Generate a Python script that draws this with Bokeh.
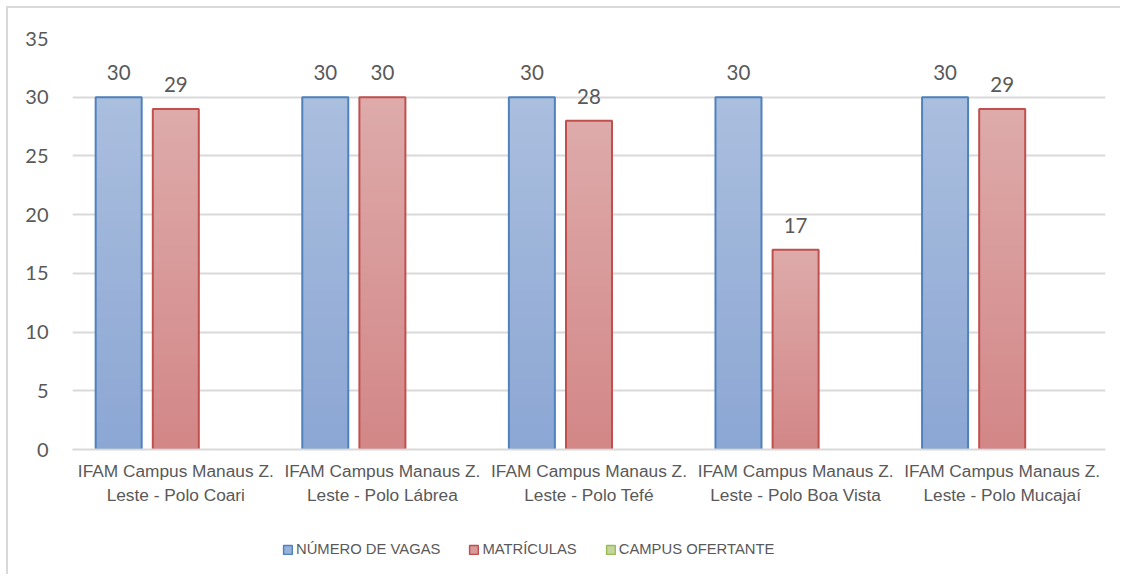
from bokeh.plotting import figure
from bokeh.layouts import column
from bokeh.models import Range1d, FixedTicker, Legend, LegendItem, ColumnDataSource
from bokeh.core.properties import value
from bokeh.embed import file_html
from bokeh.resources import INLINE

categories = [
    "IFAM Campus Manaus Z.\nLeste - Polo Coari",
    "IFAM Campus Manaus Z.\nLeste - Polo Lábrea",
    "IFAM Campus Manaus Z.\nLeste - Polo Tefé",
    "IFAM Campus Manaus Z.\nLeste - Polo Boa Vista",
    "IFAM Campus Manaus Z.\nLeste - Polo Mucajaí",
]
series_names = ["NÚMERO DE VAGAS", "MATRÍCULAS", "CAMPUS OFERTANTE"]
vagas = [30, 30, 30, 30, 30]
matriculas = [29, 30, 28, 17, 29]
campus = [0, 0, 0, 0, 0]
y_ticks = [0, 5, 10, 15, 20, 25, 30, 35]

TEXT = "#595959"
GRID = "#D9D9D9"
SANS = "Liberation Sans"
NUMF = "Lato"

p = figure(
    frame_width=1033, frame_height=411,
    min_border_left=64, min_border_right=15, min_border_top=30, min_border_bottom=85,
    x_range=Range1d(-0.5, len(categories) - 0.5), y_range=Range1d(0, 35),
    output_backend="svg", toolbar_location=None, tools="",
)
p.outline_line_color = None
p.background_fill_color = "white"
p.border_fill_color = "white"

# axes
p.xaxis.ticker = FixedTicker(ticks=list(range(len(categories))))
p.xaxis.major_label_overrides = {i: c for i, c in enumerate(categories)}
p.xaxis.axis_line_color = GRID
p.xaxis.axis_line_width = 2
p.xaxis.major_tick_line_color = None
p.xaxis.minor_tick_line_color = None
p.xaxis.major_label_text_font = SANS
p.xaxis.major_label_text_font_size = "17.3px"
p.xaxis.major_label_text_color = TEXT
p.xaxis.major_label_standoff = 5

p.yaxis.ticker = FixedTicker(ticks=y_ticks)
p.yaxis.axis_line_color = None
p.yaxis.major_tick_line_color = None
p.yaxis.minor_tick_line_color = None
p.yaxis.major_label_text_font = NUMF
p.yaxis.major_label_text_font_size = "20px"
p.yaxis.major_label_text_color = TEXT
p.yaxis.major_label_standoff = 18

p.xgrid.grid_line_color = None
p.ygrid.grid_line_color = GRID
p.ygrid.grid_line_width = 2

BW = 0.2227
OFF = 0.2765

def mix(c1, c2, t):
    a = [int(c1[i:i + 2], 16) for i in (1, 3, 5)]
    b = [int(c2[i:i + 2], 16) for i in (1, 3, 5)]
    return "#%02x%02x%02x" % tuple(round(a[k] + (b[k] - a[k]) * t) for k in range(3))

def gradient_bars(vals, offset, top_col, bot_col, line_col, steps=40):
    xs = [i + offset for i in range(len(vals))]
    for k in range(steps):
        frac = (steps - k) / steps
        col = mix(top_col, bot_col, k / (steps - 1))
        p.quad(left=[x - BW / 2 for x in xs], right=[x + BW / 2 for x in xs],
               bottom=[0] * len(vals), top=[v * frac for v in vals],
               fill_color=col, line_color=None)
    p.quad(left=[x - BW / 2 for x in xs], right=[x + BW / 2 for x in xs],
           bottom=[0] * len(vals), top=vals,
           fill_color=None, line_color=line_col, line_width=2)
    src = ColumnDataSource(dict(x=xs, y=vals, t=[str(v) for v in vals]))
    p.text(x="x", y="y", text="t", source=src, text_align="center", text_baseline="bottom",
           y_offset=-17, text_font=value(NUMF), text_font_size="20.5px", text_color=TEXT)

gradient_bars(vagas, -OFF, "#AABEDE", "#8CA7D4", "#4F81BD")
gradient_bars(matriculas, 0.0, "#DEAAAA", "#D38787", "#C0504D")

# legend strip: a second figure holding only the legend
lf = figure(width=1112, height=40, min_border=0, x_range=Range1d(0, 1), y_range=Range1d(0, 1),
            x_axis_type=None, y_axis_type=None, output_backend="svg",
            toolbar_location=None, tools="")
lf.outline_line_color = None
lf.xgrid.grid_line_color = None
lf.ygrid.grid_line_color = None
lf.border_fill_color = "white"

leg_cols = [("#98B2DA", "#4F81BD"), ("#D99A9A", "#C0504D"), ("#C4D79B", "#9BBB59")]
items = []
for name, (fc, lc) in zip(series_names, leg_cols):
    # swatch renderer kept outside the strip's visible range; only its legend icon shows
    r = lf.quad(left=[-3], right=[-2], bottom=[-3], top=[-2],
                fill_color=fc, line_color=lc, line_width=1.5)
    items.append(LegendItem(label=name, renderers=[r]))

legend = Legend(items=items, orientation="horizontal", location=(210, 17),
                glyph_width=11, glyph_height=11, label_standoff=3, spacing=28,
                padding=0, margin=0, border_line_color=None, background_fill_alpha=0,
                label_text_font=SANS, label_text_font_size="14.8px", label_text_color=TEXT)
lf.add_layout(legend, "center")

layout = column(p, lf, spacing=0)
layout.styles = {"margin-left": "6px", "margin-top": "6px",
                 "border-left": "2px solid #D9D9D9", "border-top": "2px solid #D9D9D9"}

open("out.html", "w").write(file_html(layout, INLINE))
